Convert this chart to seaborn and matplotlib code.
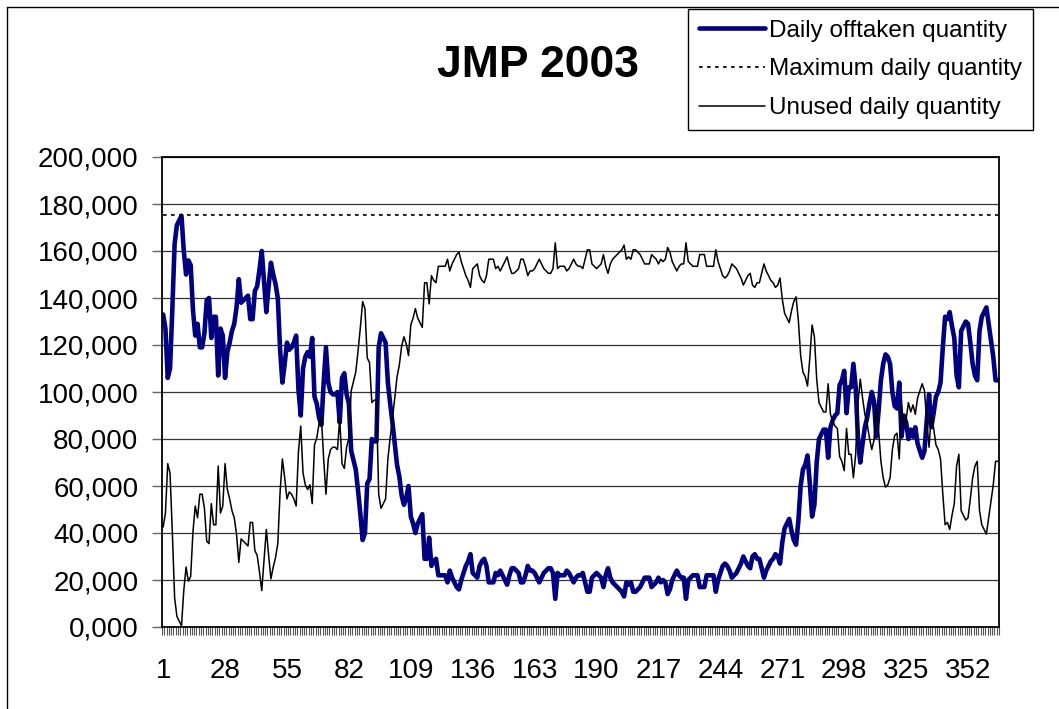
import numpy as np
import pandas as pd
import matplotlib
matplotlib.use("Agg")
import matplotlib.pyplot as plt
from matplotlib.lines import Line2D
from matplotlib.ticker import FixedLocator, FuncFormatter
import seaborn as sns

# ---------------- data (thousands of units, one value per day) ----------------
days = list(range(1, 366))

offtaken_k = [
    133, 127, 106, 110, 135, 163, 171, 173, 175, 160,
    150, 156, 154, 135, 124, 129, 119, 119, 125, 139,
    140, 123, 132, 132, 107, 127, 124, 106, 117, 121,
    126, 129, 136, 148, 138, 139, 140, 141, 131, 131,
    143, 145, 152, 160, 147, 134, 145, 155, 150, 146,
    140, 118, 104, 112, 121, 118, 119, 121, 124, 101,
    90, 110, 115, 117, 115, 123, 98, 95, 89, 86,
    104, 119, 104, 100, 99, 99, 100, 87, 106, 108,
    99, 95, 75, 71, 67, 58, 48, 37, 40, 61,
    63, 80, 79, 79, 119, 125, 123, 121, 104, 95,
    87, 78, 69, 64, 56, 52, 55, 60, 47, 44,
    40, 44, 46, 48, 29, 29, 38, 26, 28, 29,
    22, 22, 22, 22, 19, 24, 21, 19, 17, 16,
    20, 23, 26, 28, 31, 23, 22, 21, 26, 28,
    29, 26, 19, 19, 19, 23, 22, 24, 22, 20,
    18, 22, 25, 25, 24, 23, 19, 19, 22, 26,
    24, 24, 23, 21, 19, 21, 23, 24, 25, 25,
    23, 12, 23, 22, 22, 22, 24, 23, 21, 19,
    21, 22, 22, 23, 19, 15, 15, 21, 22, 23,
    22, 21, 17, 22, 25, 21, 19, 18, 17, 16,
    15, 13, 19, 18, 19, 15, 15, 16, 17, 19,
    21, 21, 21, 17, 18, 19, 21, 19, 20, 19,
    14, 16, 20, 22, 24, 22, 21, 21, 12, 20,
    21, 22, 22, 22, 17, 17, 17, 22, 22, 22,
    22, 15, 20, 23, 26, 27, 26, 24, 21, 22,
    23, 25, 27, 30, 28, 26, 25, 30, 31, 29,
    29, 25, 21, 24, 26, 28, 29, 31, 30, 27,
    36, 42, 44, 46, 41, 37, 35, 45, 60, 67,
    69, 73, 61, 47, 52, 70, 80, 82, 84, 84,
    72, 85, 88, 90, 91, 103, 105, 109, 91, 102,
    102, 112, 102, 80, 70, 78, 85, 89, 95, 100,
    96, 81, 92, 105, 112, 116, 115, 112, 100, 94,
    93, 104, 81, 90, 87, 80, 84, 81, 85, 78,
    75, 72, 75, 88, 99, 85, 91, 98, 100, 104,
    119, 132, 131, 134, 128, 123, 107, 102, 126, 128,
    130, 129, 121, 112, 107, 105, 126, 132, 134, 136,
    129, 122, 115, 105, 105,
]

unused_k = [
    42.5, 48.5, 69.5, 65.5, 40.5, 12.5, 4.5, 2.5, 0.5, 15.5,
    25.5, 19.5, 21.5, 40.5, 51.5, 46.5, 56.5, 56.5, 50.5, 36.5,
    35.5, 52.5, 43.5, 43.5, 68.5, 48.5, 51.5, 69.5, 58.5, 54.5,
    49.5, 46.5, 39.5, 27.5, 37.5, 36.5, 35.5, 34.5, 44.5, 44.5,
    32.5, 30.5, 23.5, 15.5, 28.5, 41.5, 30.5, 20.5, 25.5, 29.5,
    35.5, 57.5, 71.5, 63.5, 54.5, 57.5, 56.5, 54.5, 51.5, 74.5,
    85.5, 65.5, 60.5, 58.5, 60.5, 52.5, 77.5, 80.5, 86.5, 89.5,
    71.5, 56.5, 71.5, 75.5, 76.5, 76.5, 75.5, 88.5, 69.5, 67.5,
    76.5, 80.5, 100.5, 104.5, 108.5, 117.5, 127.5, 138.5, 135.5, 114.5,
    112.5, 95.5, 96.5, 96.5, 56.5, 50.5, 52.5, 54.5, 71.5, 80.5,
    88.5, 97.5, 106.5, 111.5, 119.5, 123.5, 120.5, 115.5, 128.5, 131.5,
    135.5, 131.5, 129.5, 127.5, 146.5, 146.5, 137.5, 149.5, 147.5, 146.5,
    153.5, 153.5, 153.5, 153.5, 156.5, 151.5, 154.5, 156.5, 158.5, 159.5,
    155.5, 152.5, 149.5, 147.5, 144.5, 152.5, 153.5, 154.5, 149.5, 147.5,
    146.5, 149.5, 156.5, 156.5, 156.5, 152.5, 153.5, 151.5, 153.5, 155.5,
    157.5, 153.5, 150.5, 150.5, 151.5, 152.5, 156.5, 156.5, 153.5, 149.5,
    151.5, 151.5, 152.5, 154.5, 156.5, 154.5, 152.5, 151.5, 150.5, 150.5,
    152.5, 163.5, 152.5, 153.5, 153.5, 153.5, 151.5, 152.5, 154.5, 156.5,
    154.5, 153.5, 153.5, 152.5, 156.5, 160.5, 160.5, 154.5, 153.5, 152.5,
    153.5, 154.5, 158.5, 153.5, 150.5, 154.5, 156.5, 157.5, 158.5, 159.5,
    160.5, 162.5, 156.5, 157.5, 156.5, 160.5, 160.5, 159.5, 158.5, 156.5,
    154.5, 154.5, 154.5, 158.5, 157.5, 156.5, 154.5, 156.5, 155.5, 156.5,
    161.5, 159.5, 155.5, 153.5, 151.5, 153.5, 154.5, 154.5, 163.5, 155.5,
    154.5, 153.5, 153.5, 153.5, 158.5, 158.5, 158.5, 153.5, 153.5, 153.5,
    153.5, 160.5, 155.5, 152.5, 149.5, 148.5, 149.5, 151.5, 154.5, 153.5,
    152.5, 150.5, 148.5, 145.5, 147.5, 149.5, 150.5, 145.5, 144.5, 146.5,
    146.5, 150.5, 154.5, 151.5, 149.5, 147.5, 146.5, 144.5, 145.5, 148.5,
    139.5, 133.5, 131.5, 129.5, 134.5, 138.5, 140.5, 130.5, 115.5, 108.5,
    106.5, 102.5, 114.5, 128.5, 123.5, 105.5, 95.5, 93.5, 91.5, 91.5,
    103.5, 90.5, 87.5, 85.5, 84.5, 72.5, 70.5, 66.5, 84.5, 73.5,
    73.5, 63.5, 73.5, 95.5, 105.5, 97.5, 90.5, 86.5, 80.5, 75.5,
    79.5, 94.5, 83.5, 70.5, 63.5, 59.5, 60.5, 63.5, 75.5, 81.5,
    82.5, 71.5, 94.5, 85.5, 88.5, 95.5, 91.5, 94.5, 90.5, 97.5,
    100.5, 103.5, 100.5, 87.5, 76.5, 90.5, 84.5, 77.5, 75.5, 71.5,
    56.5, 43.5, 44.5, 41.5, 47.5, 52.5, 68.5, 73.5, 49.5, 47.5,
    45.5, 46.5, 54.5, 63.5, 68.5, 70.5, 49.5, 43.5, 41.5, 39.5,
    46.5, 53.5, 60.5, 70.5, 70.5,
]

max_daily_k = 175.5  # contractual maximum (thousands)

tick_days = [1, 28, 55, 82, 109, 136, 163, 190, 217, 244, 271, 298, 325, 352]
y_ticks = [0, 20000, 40000, 60000, 80000, 100000, 120000, 140000, 160000, 180000, 200000]

series_names = ["Daily offtaken quantity", "Maximum daily quantity", "Unused daily quantity"]
title = "JMP 2003"

# ---------------- build frame ----------------
df = pd.DataFrame({
    "day": days,
    "offtaken": np.array(offtaken_k, dtype=float) * 1000,
    "maximum": np.full(len(days), max_daily_k * 1000),
    "unused": np.array(unused_k, dtype=float) * 1000,
})

sns.set_theme(style="white")
plt.rcParams["font.family"] = ["Liberation Sans", "DejaVu Sans"]
plt.rcParams["text.color"] = "black"

W, H = 1059, 709
fig = plt.figure(figsize=(W / 100, H / 100), dpi=100)
fig.patch.set_facecolor("white")
ax = fig.add_axes([162 / W, 1 - 627 / H, (999 - 162) / W, (627 - 157) / H])

sns.lineplot(data=df, x="day", y="offtaken", ax=ax, color="#000080", lw=3.3,
             label=series_names[0])
sns.lineplot(data=df, x="day", y="maximum", ax=ax, color="black", lw=1.2,
             linestyle=(0, (2.2, 2.6)), label=series_names[1])
sns.lineplot(data=df, x="day", y="unused", ax=ax, color="black", lw=1.1,
             label=series_names[2])

ax.set_xlim(0.5, 365.5)
ax.set_ylim(0, 200000)
ax.set_xlabel("")
ax.set_ylabel("")

ax.yaxis.set_major_locator(FixedLocator(y_ticks))
ax.yaxis.set_major_formatter(FuncFormatter(lambda v, _: f"{int(round(v / 1000))},000"))
ax.set_xticks(tick_days)
ax.set_xticklabels([str(d) for d in tick_days])
ax.xaxis.set_minor_locator(FixedLocator(np.arange(0.5, 366, 1.0)))

ax.tick_params(axis="x", which="major", bottom=True, length=0, pad=22,
               labelsize=20, labelcolor="black")
ax.tick_params(axis="x", which="minor", bottom=True, length=6, width=0.8,
               color="#555555", direction="out")
ax.tick_params(axis="y", which="major", left=True, length=7, width=1.0,
               color="#666666", direction="out", pad=10, labelsize=20,
               labelcolor="black")

ax.grid(axis="y", color="#333333", lw=0.9)
ax.grid(axis="x", visible=False)
ax.set_axisbelow(True)
for side in ["left", "bottom", "top", "right"]:
    ax.spines[side].set_visible(True)
    ax.spines[side].set_color("black")
    ax.spines[side].set_linewidth(1.3)

leg = ax.legend(loc="upper right", bbox_to_anchor=(1033 / W, 1 - 9 / H),
                bbox_transform=fig.transFigure, fontsize=17.5, frameon=True,
                fancybox=False, edgecolor="black", framealpha=1,
                borderpad=0.45, labelspacing=0.68, handlelength=2.75,
                handletextpad=0.15, borderaxespad=0)
leg.get_frame().set_linewidth(1.0)
for t in leg.get_texts():
    t.set_color("black")

fig.text(538 / W, 1 - 77 / H, title, ha="center", va="baseline",
         fontsize=32, fontweight="bold", color="black")

# outer chart-area frame (left and top edges visible in the reference)
fig.add_artist(Line2D([7 / W, 7 / W], [0, 1 - 7 / H], transform=fig.transFigure,
                      color="black", lw=1.0))
fig.add_artist(Line2D([7 / W, 1], [1 - 7 / H, 1 - 7 / H], transform=fig.transFigure,
                      color="black", lw=1.0))

fig.savefig("out.png", dpi=100)
